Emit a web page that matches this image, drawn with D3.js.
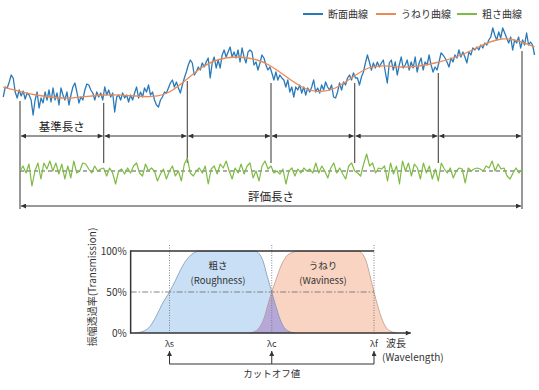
<!DOCTYPE html>
<html><head><meta charset="utf-8">
<script src="https://cdn.jsdelivr.net/npm/d3@7"></script>
<style>
html,body{margin:0;padding:0;background:#fff;}
svg{display:block;font-family:"Noto Sans CJK JP","Noto Sans",sans-serif;}
</style></head>
<body><svg id="c" width="539" height="390"></svg>
<script>
// ---------- data: top diagram ----------
const legendNames = ["断面曲線", "うねり曲線", "粗さ曲線"];
const legendColors = ["#2a7ab9", "#ec8a55", "#7dbb42"];
// primary profile heights (evenly sampled across the measured length)
const profileHeights = [
23,33,32,38,45,42,28,22,30,24,29,21,27,25,20,5,20,28,12,22,
17,28,20,30,18,32,20,27,15,32,25,20,28,15,25,33,37,28,17,23,
20,30,36,35,30,27,20,28,23,27,20,33,25,30,23,27,8,23,25,20,
27,22,25,18,25,20,27,33,22,28,23,32,28,35,25,28,20,15,13,20,
23,28,27,32,37,40,33,38,
32,27,35,42,48,55,60,57,45,48,53,50,57,53,58,62,42,57,63,52,
60,52,65,70,63,68,73,63,68,62,70,58,72,63,57,68,70,68,55,58,
50,57,65,62,55,50,53,47,40,48,40,45,42,40,33,40,28,33,23,33,
30,35,27,33,25,32,28,33,40,28,32,27,35,30,38,33,30,35,23,22,
28,37,30,38,35,42,45,40,47,42,
42,35,43,48,57,65,58,50,57,52,58,53,57,60,48,37,57,60,50,58,
45,55,63,52,55,60,50,58,52,63,48,57,62,50,58,55,65,55,48,53,
50,58,67,65,62,58,53,62,58,65,62,70,63,68,63,57,68,65,72,70,
73,70,75,72,77,75,80,83,92,85,80,88,82,92,87,82,77,83,70,80,
77,83,72,80,75,87,75,78,75,65];
// waviness (mean line) heights
const wavinessHeights = [33,25,22,25,24,28,53,63,55,33,32,52,53,57,68,81,73];
// roughness deviations over the evaluation length
const roughnessDev = [
0,5,-2,7,-15,0,8,-8,8,2,10,0,8,-3,7,-8,5,-7,10,-2,0,8,7,2,-2,5,0,2,3,-5,3,-2,-13,0,2,-3,3,-2,5,8,-2,-5,7,0,3,0,-10,-3,2,-8,0,5,-5,0,-10,7,13,
-2,-5,0,3,-2,5,-13,2,5,-3,7,3,10,0,-8,3,-2,7,-3,5,8,-7,0,-10,5,10,2,5,-2,0,-3,2,-13,0,3,-5,2,-2,3,0,2,-2,8,-2,5,0,-7,3,8,-2,3,-3,-8,5,8,0,
-2,-5,7,17,5,8,-2,3,2,5,-10,8,-3,5,-13,10,0,8,-5,7,3,-8,8,-2,5,-8,2,-10,8,2,-2,3,-7,0,3,2,-12,3,0,2,3,2,0,5,3,10,0,7,2,3,-5,-8,-2,3,-2,2];
const samplingBoundaries = [0,1,2,3,4,5,6];
const samplingLabel = "基準長さ";
const evaluationLabel = "評価長さ";

// ---------- data: transmission diagram ----------
const roughPos = [0.663,0.741,0.809,0.868,0.927,1.0,1.054,1.112,1.171,1.230,1.298,1.836,1.875,1.914,1.954,2.0,2.042,2.081,2.120,2.169,2.227];
const roughT   = [0,2,8,20,35,50,63,78,90,97,100,100,97,88,70,50,32,17,7,2,0];
const wavePos  = [1.778,1.836,1.885,1.924,1.963,2.0,2.042,2.091,2.140,2.198,2.276,2.844,2.883,2.922,2.961,3.0,3.039,3.078,3.117,3.166,3.225];
const waveT    = [0,2,8,18,35,50,65,82,93,98,100,100,97,88,70,50,32,17,7,2,0];
const yTickValues = [0,50,100];
const yTickLabels = ["0%","50%","100%"];
const cutoffPos = [1,2,3];
const cutoffLabels = ["λs","λc","λf"];

// ---------- drawing ----------
const svg = d3.select("#c");
const defs = svg.append("defs");
defs.append("marker").attr("id","ah").attr("viewBox","0 0 10 10")
  .attr("refX",10).attr("refY",5).attr("markerWidth",6).attr("markerHeight",5)
  .attr("markerUnits","userSpaceOnUse").attr("orient","auto-start-reverse")
  .append("path").attr("d","M0,0L10,5L0,10z").attr("fill","#333");

// top scales
const xT = d3.scaleLinear().domain([0,6]).range([20,522]);
const yT = d3.scaleLinear().domain([0,100]).range([120,20]);
const yR = d3.scaleLinear().domain([-20,20]).range([191,151]);
const pStart = -0.2, pEnd = 6.15;
const profPts = profileHeights.map((h,i)=>[pStart + i*(pEnd-pStart)/(profileHeights.length-1), h]);
const wavPts = wavinessHeights.map((h,i)=>[pStart + i*(pEnd-pStart)/(wavinessHeights.length-1), h]);
const rPts = roughnessDev.map((d,i)=>[i*6/(roughnessDev.length-1), d]);

// boundary vertical lines
samplingBoundaries.forEach((b,i)=>{
  const X = xT(b);
  const near = profPts.filter(p=>Math.abs(xT(p[0])-X)<=4);
  const top = d3.max(near, p=>yT(p[1])) + 3;
  const bottom = (i===0 || i===samplingBoundaries.length-1) ? 209 : 163;
  svg.append("line").attr("x1",X).attr("x2",X).attr("y1",top).attr("y2",bottom)
    .attr("stroke","#555").attr("stroke-width",1.2);
});
// sampling-length arrows
d3.pairs(samplingBoundaries).forEach(([a,b])=>{
  svg.append("line").attr("x1",xT(a)+1).attr("x2",xT(b)-1).attr("y1",136).attr("y2",136)
    .attr("stroke","#333").attr("stroke-width",1)
    .attr("marker-start","url(#ah)").attr("marker-end","url(#ah)");
});
svg.append("text").attr("x",(xT(0)+xT(1))/2).attr("y",131).attr("text-anchor","middle")
  .attr("font-size",11.5).attr("fill","#222").text(samplingLabel);
// evaluation length
svg.append("line").attr("x1",xT(0)+1).attr("x2",xT(6)-1).attr("y1",206).attr("y2",206)
  .attr("stroke","#333").attr("stroke-width",1)
  .attr("marker-start","url(#ah)").attr("marker-end","url(#ah)");
svg.append("text").attr("x",(xT(0)+xT(6))/2).attr("y",201).attr("text-anchor","middle")
  .attr("font-size",11.5).attr("fill","#222").text(evaluationLabel);

// roughness center line
svg.append("line").attr("x1",xT(0)).attr("x2",xT(6)).attr("y1",yR(0)).attr("y2",yR(0))
  .attr("stroke","#444").attr("stroke-width",0.9).attr("stroke-dasharray","4,3");

// curves
const lineT = d3.line().x(d=>xT(d[0])).y(d=>yT(d[1]));
svg.append("path").datum(profPts).attr("d",lineT).attr("fill","none")
  .attr("stroke",legendColors[0]).attr("stroke-width",1.3).attr("stroke-linejoin","round");
svg.append("path").datum(wavPts).attr("d",lineT.curve(d3.curveNatural)).attr("fill","none")
  .attr("stroke",legendColors[1]).attr("stroke-width",1.3);
svg.append("path").datum(rPts).attr("d",d3.line().x(d=>xT(d[0])).y(d=>yR(d[1])))
  .attr("fill","none").attr("stroke",legendColors[2]).attr("stroke-width",1.2).attr("stroke-linejoin","round");

// legend
const legX = [303,376,457];
legendNames.forEach((n,i)=>{
  svg.append("line").attr("x1",legX[i]).attr("x2",legX[i]+20).attr("y1",14).attr("y2",14)
    .attr("stroke",legendColors[i]).attr("stroke-width",2);
  svg.append("text").attr("x",legX[i]+25).attr("y",17.5).attr("font-size",10).attr("fill","#333").text(n);
});

// ---------- transmission chart ----------
const xB = d3.scaleLinear().domain([1,3]).range([169.5,374]);
const yB = d3.scaleLinear().domain([0,100]).range([333,251]);
const boxStart = 0.62, axisEnd = 3.36;
const areaB = (pos,t)=>d3.area().x((d,i)=>xB(pos[i])).y0(yB(0)).y1((d,i)=>yB(t[i])).curve(d3.curveMonotoneX)(t);
const lineB = (pos,t)=>d3.line().x((d,i)=>xB(pos[i])).y((d,i)=>yB(t[i])).curve(d3.curveMonotoneX)(t);

defs.append("clipPath").attr("id","rclip").append("path").attr("d",areaB(roughPos,roughT));
svg.append("path").attr("d",areaB(roughPos,roughT)).attr("fill","#c8dff5");
svg.append("path").attr("d",areaB(wavePos,waveT)).attr("fill","#f9d4c2");
svg.append("path").attr("d",areaB(wavePos,waveT)).attr("fill","#b5a8d8").attr("clip-path","url(#rclip)");
svg.append("path").attr("d",lineB(roughPos,roughT)).attr("fill","none").attr("stroke","#7f97b8").attr("stroke-width",0.8);
svg.append("path").attr("d",lineB(wavePos,waveT)).attr("fill","none").attr("stroke","#b99a8a").attr("stroke-width",0.8);

// 50% dash-dot
svg.append("line").attr("x1",xB(boxStart)).attr("x2",xB(3)).attr("y1",yB(50)).attr("y2",yB(50))
  .attr("stroke","#777").attr("stroke-width",0.9).attr("stroke-dasharray","6,2,1.5,2");
// cutoff dotted lines
cutoffPos.forEach(p=>{
  svg.append("line").attr("x1",xB(p)).attr("x2",xB(p)).attr("y1",245).attr("y2",yB(0))
    .attr("stroke","#777").attr("stroke-width",0.9).attr("stroke-dasharray","1,1.5");
});
// box frame
svg.append("line").attr("x1",xB(boxStart)).attr("x2",xB(boxStart)).attr("y1",yB(100)-0.7).attr("y2",yB(0)+0.7)
  .attr("stroke","#333").attr("stroke-width",1.5);
svg.append("line").attr("x1",xB(boxStart)).attr("x2",xB(3)).attr("y1",yB(100)).attr("y2",yB(100))
  .attr("stroke","#333").attr("stroke-width",1.5);
svg.append("line").attr("x1",xB(boxStart)).attr("x2",xB(axisEnd)).attr("y1",yB(0)).attr("y2",yB(0))
  .attr("stroke","#333").attr("stroke-width",1.5).attr("marker-end","url(#ah)");

// y ticks
yTickValues.forEach((v,i)=>{
  svg.append("text").attr("x",xB(boxStart)-4).attr("y",yB(v)+3.5).attr("text-anchor","end")
    .attr("font-size",10).attr("fill","#333").text(yTickLabels[i]);
});
svg.append("text").attr("transform","translate(96,287) rotate(-90)").attr("text-anchor","middle")
  .attr("font-size",10).attr("fill","#333").text("振幅透過率(Transmission)");

// region labels
svg.append("text").attr("x",218).attr("y",269).attr("text-anchor","middle").attr("font-size",9.5).attr("fill","#333").text("粗さ");
svg.append("text").attr("x",218).attr("y",284).attr("text-anchor","middle").attr("font-size",9.5).attr("fill","#333").text("(Roughness)");
svg.append("text").attr("x",323).attr("y",269).attr("text-anchor","middle").attr("font-size",9.5).attr("fill","#333").text("うねり");
svg.append("text").attr("x",323).attr("y",284).attr("text-anchor","middle").attr("font-size",9.5).attr("fill","#333").text("(Waviness)");

// cutoff labels and arrows
cutoffPos.forEach((p,i)=>{
  svg.append("text").attr("x",xB(p)).attr("y",347).attr("text-anchor","middle")
    .attr("font-size",9).attr("fill","#333").text(cutoffLabels[i]);
  svg.append("line").attr("x1",xB(p)).attr("x2",xB(p)).attr("y1",364).attr("y2",351)
    .attr("stroke","#333").attr("stroke-width",1).attr("marker-end","url(#ah)");
});
svg.append("line").attr("x1",xB(1)).attr("x2",xB(3)).attr("y1",364).attr("y2",364)
  .attr("stroke","#333").attr("stroke-width",1);
svg.append("text").attr("x",xB(2)).attr("y",377).attr("text-anchor","middle")
  .attr("font-size",9.5).attr("fill","#333").text("カットオフ値");
svg.append("text").attr("x",386).attr("y",347).attr("font-size",10).attr("fill","#333").text("波長");
svg.append("text").attr("x",382).attr("y",361).attr("font-size",10).attr("fill","#333").text("(Wavelength)");
</script></body></html>
